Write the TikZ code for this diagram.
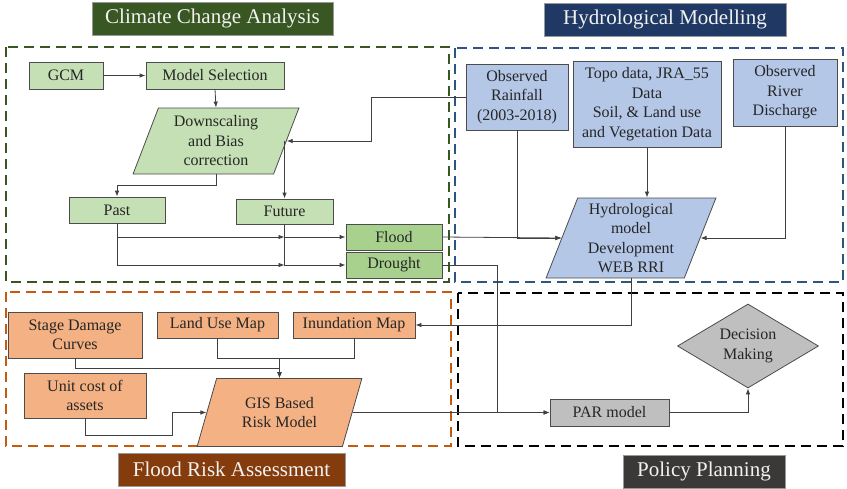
\documentclass[tikz,border=0pt]{standalone}
\usepackage{fontspec}
\setmainfont{Liberation Serif}
\usetikzlibrary{shapes.geometric,arrows.meta}

\definecolor{ccagreen}{RGB}{56,87,35}
\definecolor{hydblue}{RGB}{31,56,100}
\definecolor{frabrown}{RGB}{132,60,12}
\definecolor{ppgray}{RGB}{59,56,56}
\definecolor{framegreen}{RGB}{56,87,35}
\definecolor{frameblue}{RGB}{46,84,130}
\definecolor{frameorange}{RGB}{197,90,17}
\definecolor{lgreen}{RGB}{197,224,180}
\definecolor{mgreen}{RGB}{169,209,142}
\definecolor{lblue}{RGB}{180,199,231}
\definecolor{lorange}{RGB}{244,177,131}
\definecolor{lgray}{RGB}{191,191,191}

\tikzset{
	box/.style={draw=black!70, line width=0.8pt, align=center, inner sep=1pt,
		text=black!85, font=\fontsize{16}{19.5}\selectfont},
	para/.style={box, shape=trapezium, trapezium left angle=70,
		trapezium right angle=110, trapezium stretches=true},
	head/.style={draw=black!40, line width=0.6pt, text=white!95!black,
		inner sep=0pt, font=\fontsize{21}{24}\selectfont},
	frame/.style={line width=1.8pt, dash pattern=on 10pt off 6pt},
	link/.style={draw=black!75, line width=0.8pt, -{Latex[length=6pt,width=4.5pt]}}
}

\begin{document}
\begin{tikzpicture}[x=1pt, y=-1pt]
	\useasboundingbox (0,0) rectangle (847,488);

	% section frames
	\draw[frame, draw=framegreen] (6,47) rectangle (449,282);
	\draw[frame, draw=frameblue] (455,48) rectangle (843,282);
	\draw[frame, draw=frameorange] (6,292) rectangle (451,446);
	\draw[frame, draw=black] (458,293) rectangle (843,446);

	% section titles
	\node[head, fill=ccagreen, minimum width=241pt, minimum height=33pt] (hcca) at (212.5,18.5) {Climate Change Analysis};
	\node[head, fill=hydblue, minimum width=242pt, minimum height=33pt] (hhyd) at (665,19.5) {Hydrological Modelling};
	\node[head, fill=frabrown, minimum width=227pt, minimum height=33pt] (hfra) at (231.5,469.5) {Flood Risk Assessment};
	\node[head, fill=ppgray, minimum width=162pt, minimum height=33pt] (hpp) at (704,471.5) {Policy Planning};

	% climate change analysis
	\node[box, fill=lgreen, minimum width=74pt, minimum height=27pt] (gcm) at (66,75.5) {GCM};
	\node[box, fill=lgreen, minimum width=138pt, minimum height=27pt] (mdl) at (215,75.5) {Model Selection};
	\node[para, fill=lgreen, minimum width=166pt, minimum height=66pt] (dsc) at (216,141) {Downscaling\\and Bias\\correction};
	\node[box, fill=lgreen, minimum width=96pt, minimum height=26pt] (past) at (117,210) {Past};
	\node[box, fill=lgreen, minimum width=97pt, minimum height=25pt] (fut) at (284.5,211.5) {Future};
	\node[box, fill=mgreen, minimum width=96pt, minimum height=26pt] (flood) at (394,237) {Flood};
	\node[box, fill=mgreen, minimum width=96pt, minimum height=26pt] (drought) at (394,265) {Drought};

	% hydrological modelling
	\node[box, fill=lblue, minimum width=102pt, minimum height=66pt] (rain) at (517,97) {Observed\\Rainfall\\(2003-2018)};
	\node[box, fill=lblue, minimum width=148pt, minimum height=86pt] (topo) at (647,104) {Topo data, JRA\_55\\Data\\Soil, \& Land use\\and Vegetation Data};
	\node[box, fill=lblue, minimum width=104pt, minimum height=67pt] (river) at (785,92.5) {Observed\\River\\Discharge};
	\node[para, fill=lblue, minimum width=170pt, minimum height=80pt] (hyd) at (631,238) {Hydrological\\model\\Development\\WEB RRI};

	% flood risk assessment
	\node[box, fill=lorange, minimum width=134pt, minimum height=46pt] (stage) at (75,335) {Stage Damage\\Curves};
	\node[box, fill=lorange, minimum width=121pt, minimum height=26pt] (land) at (217.5,325) {Land Use Map};
	\node[box, fill=lorange, minimum width=122pt, minimum height=26pt] (inund) at (354,325) {Inundation Map};
	\node[box, fill=lorange, minimum width=122pt, minimum height=45pt] (unit) at (85,395.5) {Unit cost of\\assets};
	\node[para, fill=lorange, minimum width=165pt, minimum height=68pt] (gis) at (279.5,412.5) {GIS Based\\Risk Model};

	% policy planning
	\node[box, fill=lgray, minimum width=119pt, minimum height=27pt] (par) at (609.5,412.5) {PAR model};
	\node[box, fill=lgray, shape=diamond, aspect=1.7, inner sep=0pt, minimum width=141pt, minimum height=84pt] (dec) at (748,346) {Decision\\Making};

	% connectors
	\draw[link] (gcm) -- (mdl);
	\draw[link] (mdl.south) -- (dsc.north);
	\draw[link] (dsc.south) -- ++(0,11) -| (past.north);
	\draw[link] (rain.west) -- ++(-94,0) |- (dsc.east);
	\draw[link] (fut.north |- dsc.east) -- (fut.north);
	\draw[link] (past.south) |- (fut.south |- flood.west);
	\draw[link] (past.south) |- (fut.south |- drought.west);
	\draw[link] (fut.south) |- (flood.west);
	\draw[link] (fut.south) |- (drought.west);
	\draw[link] (flood.east) -- (hyd.west);
	\draw[link] (rain.south) |- (hyd.west);
	\draw[link] (topo.south) -- (topo.south |- hyd.north);
	\draw[link] (river.south) |- (hyd.east);
	\draw[link] (hyd.south) |- (inund.east);
	\draw[link] (land.south) -- ++(0,20) -| (gis.north);
	\draw[link] (inund.south) -- ++(0,20) -| (gis.north);
	\draw[link] (stage.south) -- ++(0,10) -| (gis.north);
	\draw[link] (unit.south) |- ++(87,17) |- (gis.west);
	\draw[link] (drought.east) -- ++(55,0) |- (par.west);
	\draw[link] (gis.east) -- (par.west);
	\draw[link] (par.east) -| (dec.south);
\end{tikzpicture}
\end{document}
